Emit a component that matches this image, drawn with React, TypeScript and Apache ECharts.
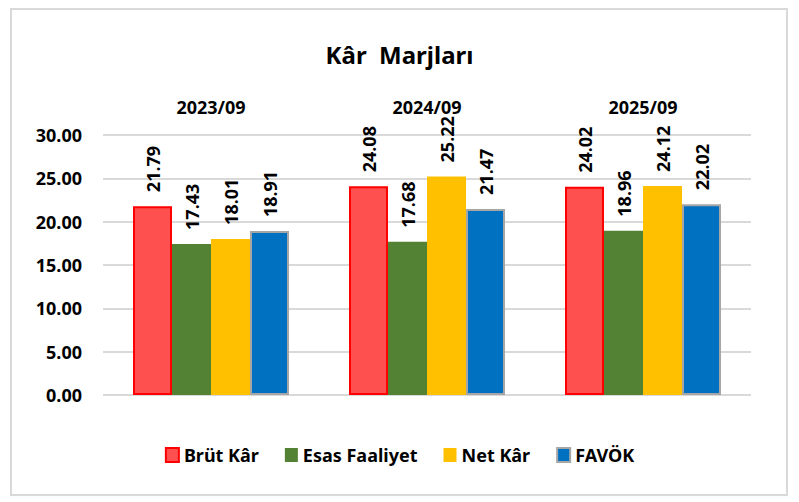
import React, { useEffect, useRef } from "react";
import * as echarts from "echarts";

const periods = ["2023/09", "2024/09", "2025/09"];
const brutKar = [21.79, 24.08, 24.02];
const esasFaaliyet = [17.43, 17.68, 18.96];
const netKar = [18.01, 25.22, 24.12];
const favok = [18.91, 21.47, 22.02];
const yTicks = { min: 0, max: 30, interval: 5 };

const FONT = "'Noto Sans', 'Open Sans', sans-serif";

const valueLabel = {
  show: true,
  position: "top" as const,
  rotate: 90,
  align: "left" as const,
  verticalAlign: "middle" as const,
  distance: 14,
  fontFamily: FONT,
  fontWeight: "bold" as const,
  fontSize: 18,
  color: "#000",
  formatter: (p: any) => Number(p.value).toFixed(2),
};

export default function App() {
  const ref = useRef<HTMLDivElement>(null);

  useEffect(() => {
    if (!ref.current) return;
    const chart = echarts.init(ref.current, undefined, { renderer: "svg" });

    const bar = (name: string, data: number[], color: string, border?: { c: string; w: number }) => ({
      name,
      type: "bar",
      data,
      barWidth: 39,
      barGap: "0%",
      itemStyle: {
        color,
        borderColor: border ? border.c : color,
        borderWidth: border ? border.w : 0,
      },
      label: valueLabel,
    });

    chart.setOption({
      animation: false,
      backgroundColor: "#fff",
      textStyle: { fontFamily: FONT },
      title: {
        text: "Kâr  Marjları",
        left: "center",
        top: 37,
        textStyle: { fontFamily: FONT, fontWeight: "bold", fontSize: 24, color: "#000" },
      },
      graphic: [
        {
          type: "rect",
          shape: { x: 11, y: 9, width: 776, height: 486 },
          style: { fill: "none", stroke: "#d9d9d9", lineWidth: 2 },
          silent: true,
        },
      ],
      legend: {
        bottom: 33,
        left: "center",
        icon: "rect",
        itemWidth: 13,
        itemHeight: 14,
        itemGap: 26,
        textStyle: { fontFamily: FONT, fontWeight: "bold", fontSize: 18, color: "#000" },
        data: ["Brüt Kâr", "Esas Faaliyet", "Net Kâr", "FAVÖK"],
      },
      grid: { left: 103, right: 48, top: 135, bottom: 107 },
      xAxis: {
        type: "category",
        position: "top",
        data: periods,
        axisLine: { show: false },
        axisTick: { show: false },
        axisLabel: {
          margin: 19,
          fontFamily: FONT,
          fontWeight: "bold",
          fontSize: 18,
          color: "#000",
        },
      },
      yAxis: {
        type: "value",
        min: yTicks.min,
        max: yTicks.max,
        interval: yTicks.interval,
        axisLine: { show: false },
        axisTick: { show: false },
        splitLine: { lineStyle: { color: "#d9d9d9", width: 2 } },
        axisLabel: {
          margin: 21,
          fontFamily: FONT,
          fontWeight: "bold",
          fontSize: 18,
          color: "#000",
          formatter: (v: number) => v.toFixed(2),
        },
      },
      series: [
        bar("Brüt Kâr", brutKar, "#ff5050", { c: "#ff0000", w: 2 }),
        bar("Esas Faaliyet", esasFaaliyet, "#548235"),
        bar("Net Kâr", netKar, "#ffc000"),
        bar("FAVÖK", favok, "#0070c0", { c: "#a6a6a6", w: 2 }),
      ],
    });

    return () => chart.dispose();
  }, []);

  return (
    <div
      ref={ref}
      style={{ position: "fixed", left: 0, top: 0, width: 799, height: 502 }}
    />
  );
}
